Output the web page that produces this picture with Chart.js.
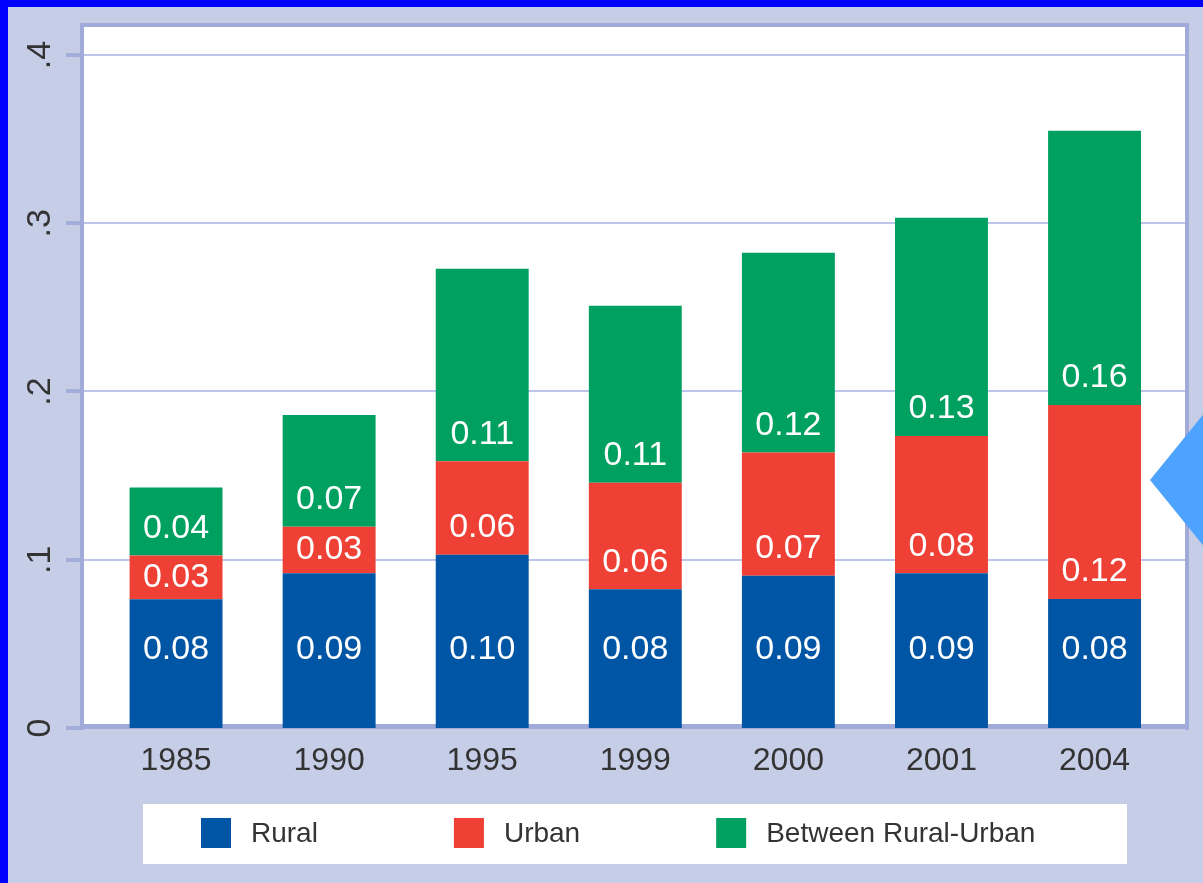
<!DOCTYPE html>
<html>
<head>
<meta charset="utf-8">
<title>Rural, Urban and Between Rural-Urban</title>
<script src="https://cdn.jsdelivr.net/npm/chart.js@4.4.1/dist/chart.umd.min.js"></script>
<style>
  html, body { margin: 0; padding: 0; background: #c6cde7; overflow: hidden; }
  #wrap { width: 1203px; height: 883px; position: relative; }
</style>
</head>
<body>
<div id="wrap"><canvas id="barChart"></canvas></div>
<script>
const years = ["1985", "1990", "1995", "1999", "2000", "2001", "2004"];

const rural = [0.0765, 0.092, 0.103, 0.0824, 0.0905, 0.092, 0.0767];
const urban = [0.026, 0.0276, 0.0555, 0.0634, 0.0733, 0.0816, 0.1152];
const between = [0.0405, 0.0664, 0.1145, 0.1052, 0.1186, 0.1297, 0.163];

const yTicks = [0, 0.1, 0.2, 0.3, 0.4];
const yTickLabels = ["0", ".1", ".2", ".3", ".4"];

const FONT = "'Liberation Sans', Arial, sans-serif";

// background, white plot box, grid, ticks and frame
const frame = {
  id: "frame",
  beforeDraw(chart) {
    const ctx = chart.ctx;
    const y = chart.scales.y;
    const a = chart.chartArea;
    const left = 84, right = 1186;

    ctx.save();
    ctx.fillStyle = "#c6cde7";
    ctx.fillRect(0, 0, chart.width, chart.height);
    ctx.fillStyle = "#0000ff";
    ctx.fillRect(0, 0, 8, chart.height);
    ctx.fillRect(0, 0, chart.width, 7);

    ctx.fillStyle = "#ffffff";
    ctx.fillRect(left, a.top, right - left, a.bottom - a.top);

    yTicks.forEach(v => {
      const py = Math.round(y.getPixelForValue(v));
      ctx.fillStyle = "#bdc5ea";
      ctx.fillRect(left, py - 1, right - left, 2);
      ctx.fillStyle = "#a3aedb";
      ctx.fillRect(66, py - 2, left - 66, 4);
    });

    ctx.fillStyle = "#a0abd9";
    ctx.fillRect(80, a.top, 4, a.bottom - a.top + 2);
    ctx.fillRect(80, a.top, 1109, 4);
    ctx.fillRect(1185, a.top, 4, a.bottom - a.top + 2);
    ctx.fillRect(80, a.bottom - 4, 1109, 5);
    ctx.restore();
  },

  afterDatasetsDraw(chart) {
    const ctx = chart.ctx;
    ctx.save();
    ctx.font = "34px " + FONT;
    ctx.fillStyle = "#ffffff";
    ctx.textAlign = "center";
    ctx.textBaseline = "middle";
    chart.data.datasets.forEach((ds, d) => {
      chart.getDatasetMeta(d).data.forEach((bar, i) => {
        const mid = (bar.y + bar.base) / 2;
        const ty = d === 0 ? bar.base - 78 : Math.max(mid, bar.base - 27);
        ctx.fillText(ds.data[i].toFixed(2), bar.x, ty);
      });
    });
    ctx.restore();
  },

  afterDraw(chart) {
    const ctx = chart.ctx;
    ctx.save();

    // legend
    ctx.fillStyle = "#ffffff";
    ctx.fillRect(143, 804, 984, 60);
    ctx.font = "28px " + FONT;
    ctx.textAlign = "left";
    ctx.textBaseline = "middle";
    let x = 201;
    chart.data.datasets.forEach(ds => {
      ctx.fillStyle = ds.backgroundColor;
      ctx.fillRect(x, 818, 30, 30);
      ctx.fillStyle = "#333333";
      ctx.fillText(ds.label, x + 50, 834);
      x += 50 + ctx.measureText(ds.label).width + 136;
    });

    // arrow marker on the right edge
    ctx.fillStyle = "#4da3ff";
    ctx.beginPath();
    ctx.moveTo(1150, 480);
    ctx.lineTo(1210, 406);
    ctx.lineTo(1210, 554);
    ctx.closePath();
    ctx.fill();
    ctx.restore();
  }
};

const bar = document.getElementById("barChart");

new Chart(bar, {
  type: "bar",

  data: {
    labels: years,

    datasets: [
      { label: "Rural", data: rural, backgroundColor: "#0055a5" },
      { label: "Urban", data: urban, backgroundColor: "#ee4035" },
      { label: "Between Rural-Urban", data: between, backgroundColor: "#00a160" }
    ]
  },

  options: {
    responsive: true,
    maintainAspectRatio: false,
    animation: false,
    barPercentage: 0.607,
    categoryPercentage: 1.0,
    layout: { padding: { top: 23, right: 31.9, left: 0, bottom: 0 } },
    plugins: {
      legend: { display: false },
      tooltip: { enabled: false }
    },
    scales: {
      x: {
        stacked: true,
        grid: { display: false, drawTicks: false },
        border: { display: false },
        ticks: { color: "#333333", font: { size: 32, family: FONT }, padding: 14, maxRotation: 0 },
        afterFit: s => { s.height = 155; s.paddingLeft = 0; s.paddingRight = 0; }
      },
      y: {
        stacked: true,
        min: 0,
        max: 0.419,
        grid: { display: false, drawTicks: false },
        border: { display: false },
        afterBuildTicks: s => { s.ticks = yTicks.map(v => ({ value: v })); },
        ticks: {
          color: "#333333",
          font: { size: 34, family: FONT },
          minRotation: 90,
          maxRotation: 90,
          crossAlign: "center",
          padding: 45,
          callback: (v, i) => yTickLabels[i]
        },
        afterFit: s => { s.width = 99.5; s.paddingTop = 0; s.paddingBottom = 0; }
      }
    }
  },

  plugins: [frame]
});
</script>
</body>
</html>
